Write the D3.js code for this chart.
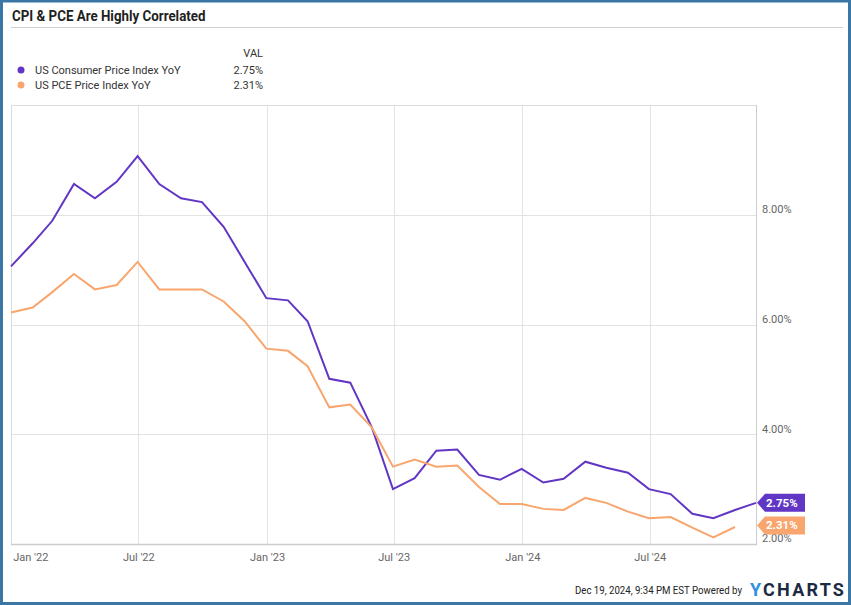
<!DOCTYPE html>
<html>
<head>
<meta charset="utf-8">
<script src="https://cdn.jsdelivr.net/npm/d3@7"></script>
<style>
  html, body { margin: 0; padding: 0; background: #fff; }
  svg { display: block; font-family: Roboto, "Noto Sans", sans-serif; }
</style>
</head>
<body>
<svg id="chart" width="851" height="605"></svg>
<script>
// month-end observations, Dec 2021 .. Nov 2024
const months = [
  "2021-12", "2022-01", "2022-02", "2022-03", "2022-04", "2022-05", "2022-06",
  "2022-07", "2022-08", "2022-09", "2022-10", "2022-11", "2022-12",
  "2023-01", "2023-02", "2023-03", "2023-04", "2023-05", "2023-06",
  "2023-07", "2023-08", "2023-09", "2023-10", "2023-11", "2023-12",
  "2024-01", "2024-02", "2024-03", "2024-04", "2024-05", "2024-06",
  "2024-07", "2024-08", "2024-09", "2024-10", "2024-11"
];
const cpiValues = [
  7.06, 7.48, 7.89, 8.56, 8.30, 8.60, 9.07, 8.56, 8.30, 8.23, 7.78, 7.14, 6.48,
  6.44, 6.06, 5.01, 4.94, 4.12, 3.00, 3.20, 3.70, 3.72, 3.26, 3.17, 3.37,
  3.12, 3.19, 3.50, 3.39, 3.30, 3.00, 2.91, 2.55, 2.47, 2.62, 2.75
];
// PCE has no Nov 2024 print yet
const pceValues = [
  6.22, 6.31, 6.59, 6.92, 6.64, 6.72, 7.14, 6.64, 6.64, 6.64, 6.42, 6.06, 5.56,
  5.52, 5.24, 4.49, 4.54, 4.12, 3.41, 3.54, 3.41, 3.43, 3.04, 2.73, 2.73,
  2.64, 2.62, 2.84, 2.75, 2.59, 2.47, 2.49, 2.30, 2.12, 2.31
];
const seriesNames = ["US Consumer Price Index YoY", "US PCE Price Index YoY"];
const seriesColors = ["#6236c4", "#f8a66d"];
const xTickDates = ["2022-01-01", "2022-07-01", "2023-01-01", "2023-07-01", "2024-01-01", "2024-07-01"];
const xTickLabels = ["Jan '22", "Jul '22", "Jan '23", "Jul '23", "Jan '24", "Jul '24"];
const yTicks = [2, 4, 6, 8];

const svg = d3.select("#chart");
const W = 851, H = 605;
const plot = { left: 11, right: 756, top: 105, bottom: 544 };

const parseMonth = d3.timeParse("%Y-%m");
const monthEnd = m => d3.timeDay.offset(d3.timeMonth.offset(parseMonth(m), 1), -1);
const parseDay = d3.timeParse("%Y-%m-%d");

const x = d3.scaleTime()
  .domain([monthEnd("2021-12"), monthEnd("2024-11")])
  .range([plot.left, plot.right]);
const y = d3.scaleLinear().domain([2, 10]).range([plot.bottom, plot.top]);

// outer frame
svg.append("rect").attr("x", 1.5).attr("y", 1).attr("width", W - 3).attr("height", H - 2.5)
  .attr("fill", "none").attr("stroke", "#3b77a6").attr("stroke-width", 3);
svg.append("rect").attr("x", 0).attr("y", 0).attr("width", W).attr("height", 1)
  .attr("fill", "#3b77a6");

// title (condensed look via horizontal scale)
svg.append("g").attr("transform", "translate(12,21) scale(0.92,1)")
  .append("text").attr("font-size", 14.5).attr("font-weight", "bold").attr("fill", "#1f1f1f")
  .text("CPI & PCE Are Highly Correlated");
svg.append("line").attr("x1", 11).attr("x2", 843).attr("y1", 27.5).attr("y2", 27.5)
  .attr("stroke", "#cfcfcf").attr("stroke-width", 1);

// legend
svg.append("text").attr("x", 263).attr("y", 57).attr("text-anchor", "end")
  .attr("font-size", 11).attr("fill", "#333").text("VAL");
const lastVals = [cpiValues[cpiValues.length - 1], pceValues[pceValues.length - 1]];
seriesNames.forEach((name, i) => {
  const ly = 70 + i * 15;
  svg.append("circle").attr("cx", 21).attr("cy", ly).attr("r", 3.5).attr("fill", seriesColors[i]);
  svg.append("text").attr("x", 35).attr("y", ly + 4).attr("font-size", 11).attr("fill", "#333").text(name);
  svg.append("text").attr("x", 263).attr("y", ly + 4).attr("text-anchor", "end")
    .attr("font-size", 11).attr("fill", "#333").text(lastVals[i].toFixed(2) + "%");
});

// grid
const g = svg.append("g");
g.selectAll(".hgrid").data(yTicks.filter(v => v > 2)).join("line")
  .attr("x1", plot.left).attr("x2", plot.right)
  .attr("y1", d => Math.round(y(d)) + 0.5).attr("y2", d => Math.round(y(d)) + 0.5)
  .attr("stroke", "#e3e3e3");
g.selectAll(".vgrid").data(xTickDates.slice(1)).join("line")
  .attr("x1", d => Math.round(x(parseDay(d))) + 0.5).attr("x2", d => Math.round(x(parseDay(d))) + 0.5)
  .attr("y1", plot.top).attr("y2", plot.bottom)
  .attr("stroke", "#e3e3e3");
// plot frame
g.append("line").attr("x1", plot.left).attr("x2", plot.right).attr("y1", plot.top + 0.5).attr("y2", plot.top + 0.5)
  .attr("stroke", "#dcdcdc");
g.append("line").attr("x1", plot.left + 0.5).attr("x2", plot.left + 0.5).attr("y1", plot.top).attr("y2", plot.bottom)
  .attr("stroke", "#dcdcdc");
g.append("line").attr("x1", plot.right + 0.5).attr("x2", plot.right + 0.5).attr("y1", plot.top).attr("y2", plot.bottom)
  .attr("stroke", "#cccccc");
g.append("line").attr("x1", plot.left).attr("x2", plot.right + 1).attr("y1", plot.bottom + 0.5).attr("y2", plot.bottom + 0.5)
  .attr("stroke", "#cccccc").attr("stroke-width", 1.5);

// x axis labels
const xAxis = d3.axisBottom(x)
  .tickValues(xTickDates.map(parseDay))
  .tickFormat((d, i) => xTickLabels[i])
  .tickSize(0).tickPadding(9);
const xg = svg.append("g").attr("transform", `translate(0,${plot.bottom})`).call(xAxis);
xg.select(".domain").remove();
xg.selectAll("text").attr("font-family", "Roboto, sans-serif").attr("font-size", 11).attr("fill", "#666")
  .attr("dy", "0.71em")
  .attr("text-anchor", (d, i) => i === 0 ? "start" : "middle")
  .attr("dx", (d, i) => i === 0 ? 1 : 0);

// y axis labels (right side)
const yAxis = d3.axisRight(y).tickValues(yTicks).tickFormat(d => d.toFixed(2) + "%")
  .tickSize(0).tickPadding(6);
const yg = svg.append("g").attr("transform", `translate(${plot.right},0)`).call(yAxis);
yg.select(".domain").remove();
yg.selectAll("text").attr("font-family", "Roboto, sans-serif").attr("font-size", 11).attr("fill", "#666")
  .attr("dy", "-0.2em");

// lines
const line = d3.line().x(d => x(d.date)).y(d => y(d.value));
[cpiValues, pceValues].forEach((vals, i) => {
  const data = vals.map((v, j) => ({ date: monthEnd(months[j]), value: v }));
  svg.append("path").datum(data).attr("d", line)
    .attr("fill", "none").attr("stroke", seriesColors[i]).attr("stroke-width", 2)
    .attr("stroke-linejoin", "miter");
});

// end-value tags
lastVals.forEach((v, i) => {
  const cy = y(v) - (i === 1 ? 1.5 : 0);
  const x0 = plot.right + 1, h = 18, w = 48;
  svg.append("path")
    .attr("d", `M${x0},${cy} L${x0 + 8},${cy - h / 2} L${x0 + w},${cy - h / 2} L${x0 + w},${cy + h / 2} L${x0 + 8},${cy + h / 2} Z`)
    .attr("fill", seriesColors[i]);
  svg.append("text").attr("x", x0 + 9).attr("y", cy + 4).attr("font-size", 11.5).attr("font-weight", "bold")
    .attr("fill", "#fff").text(v.toFixed(2) + "%");
});

// footer
svg.append("g").attr("transform", "translate(742,594) scale(0.92,1)")
  .append("text").attr("text-anchor", "end")
  .attr("font-size", 10.5).attr("fill", "#222")
  .text("Dec 19, 2024, 9:34 PM EST Powered by");
const logo = svg.append("text").attr("x", 750).attr("y", 596).attr("font-size", 18).attr("font-weight", "bold")
  .attr("letter-spacing", 2.2);
logo.append("tspan").attr("fill", "#2f8fe0").text("Y");
logo.append("tspan").attr("fill", "#1d2a44").text("CHARTS");
</script>
</body>
</html>
